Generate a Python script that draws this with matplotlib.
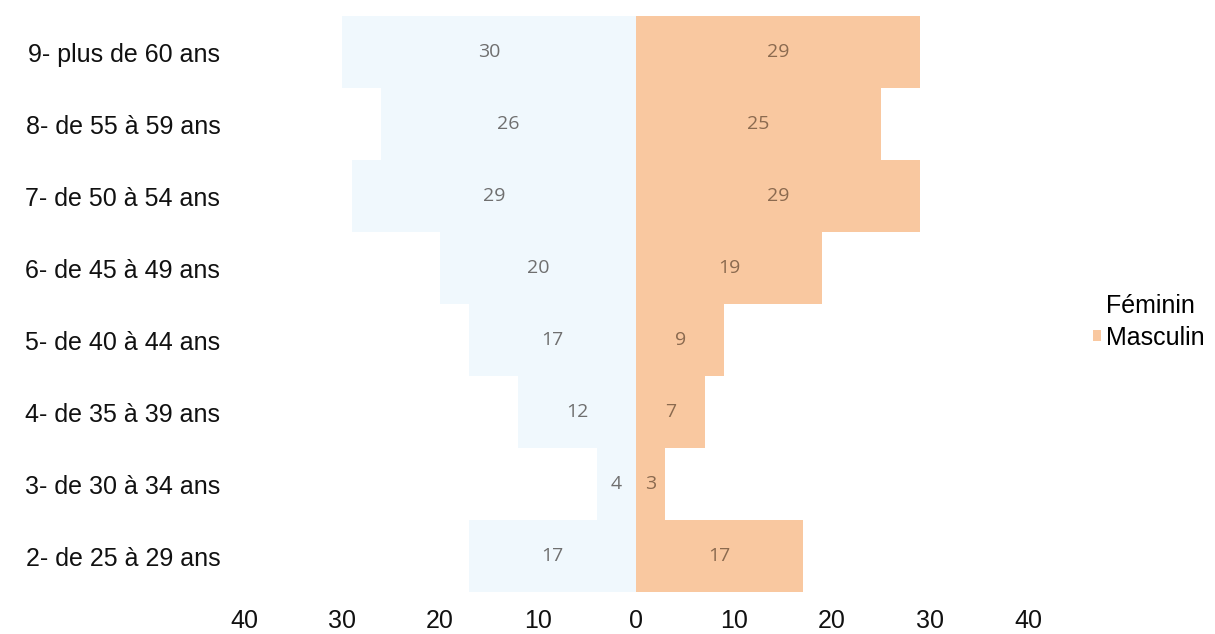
import numpy as np
import matplotlib
matplotlib.use('Agg')
import matplotlib.pyplot as plt
from matplotlib.patches import Patch

# tranches d'age (du bas vers le haut)
tranches = ['2- de 25 à 29 ans', '3- de 30 à 34 ans', '4- de 35 à 39 ans',
            '5- de 40 à 44 ans', '6- de 45 à 49 ans', '7- de 50 à 54 ans',
            '8- de 55 à 59 ans', '9- plus de 60 ans']
feminin = [17, 4, 12, 17, 20, 29, 26, 30]
masculin = [17, 3, 7, 9, 19, 29, 25, 29]
xticks = [-40, -30, -20, -10, 0, 10, 20, 30, 40]

col_f = '#f0f8fd'
col_m = '#f9c8a0'

plt.rcParams['font.family'] = ['Liberation Sans', 'DejaVu Sans']

fig = plt.figure(figsize=(12.15, 6.34), dpi=100)
ax = fig.add_axes([0.2008, 0.0662, 0.6453, 0.9085])

y = np.arange(len(tranches))
ax.barh(y, -np.array(feminin), height=1.0, color=col_f, label='Féminin')
ax.barh(y, masculin, height=1.0, color=col_m, label='Masculin')

# etiquettes des valeurs au milieu des barres
for yi, f, m in zip(y, feminin, masculin):
    ax.text(-f / 2, yi, str(f), ha='center', va='center', fontsize=14,
            color='#6f6f6f', family=['Open Sans', 'DejaVu Sans'])
    ax.text(m / 2, yi, str(m), ha='center', va='center', fontsize=14,
            color='#8b6a4f', family=['Open Sans', 'DejaVu Sans'])

ax.set_xlim(-40, 40)
ax.set_ylim(-0.5, len(tranches) - 0.5)
ax.set_xticks(xticks)
ax.set_xticklabels([str(abs(v)) for v in xticks])
ax.set_yticks(y)
ax.set_yticklabels(tranches)
ax.tick_params(axis='both', length=0, labelsize=18, colors='#111111')
ax.tick_params(axis='x', pad=12)
ax.tick_params(axis='y', pad=17)
for s in ax.spines.values():
    s.set_visible(False)

handles = [Patch(facecolor='white', label='Féminin'),
           Patch(facecolor=col_m, label='Masculin')]
fig.legend(handles=handles, loc='center left', bbox_to_anchor=(0.8996, 0.492),
           frameon=False, fontsize=18, handlelength=0.3, handleheight=0.3,
           handletextpad=0.2, labelspacing=0.3, borderpad=0, borderaxespad=0)

fig.savefig('out.png', dpi=100)
